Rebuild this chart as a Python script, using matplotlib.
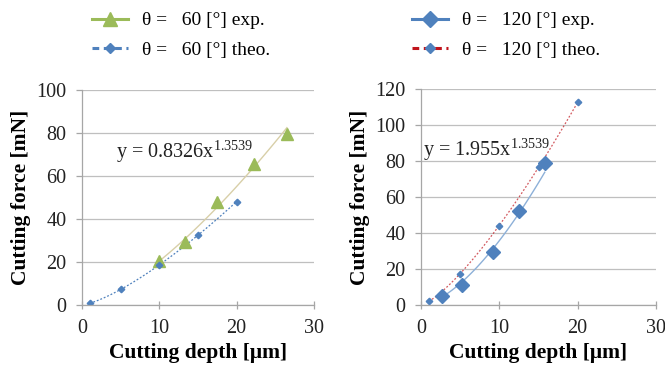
import numpy as np
import matplotlib
matplotlib.use("Agg")
import matplotlib.pyplot as plt
from matplotlib.lines import Line2D

plt.rcParams['font.family'] = ['Liberation Serif', 'DejaVu Serif']
plt.rcParams['mathtext.fontset'] = 'custom'
plt.rcParams['mathtext.rm'] = 'Liberation Serif'

# Data
exp60_x = [10.0, 13.3, 17.5, 22.2, 26.5]
exp60_y = [20.5, 29.5, 48.0, 65.5, 79.5]
theo60_x = [1, 5, 10, 15, 20]
theo60_y = [0.8, 7.3, 18.6, 32.5, 48.0]

exp120_x = [2.7, 5.2, 9.2, 12.5, 15.8]
exp120_y = [5.0, 11.0, 29.5, 52.5, 79.0]
theo120_x = [1, 5, 10, 15, 20]
theo120_y = [2.0, 17.5, 44.0, 76.5, 113.0]

eq60 = r"y = 0.8326x$^{1.3539}$"
eq120 = r"y = 1.955x$^{1.3539}$"

GREEN = '#9BBB59'
BLUE = '#4F81BD'
RED = '#C0141C'
GRID = '#BFBFBF'
TAN = '#D8CFA8'
LBLUE = '#8DB0D8'

fig = plt.figure(figsize=(6.65, 3.7), dpi=100)
ax1 = fig.add_axes([82/665, 1-305/370, (314-82)/665, (305-90)/370])
ax2 = fig.add_axes([421/665, 1-305/370, (656-421)/665, (305-89)/370])


def power_fit(x, y):
    x = np.asarray(x, float); y = np.asarray(y, float)
    b, a = np.polyfit(np.log(x), np.log(y), 1)
    xs = np.linspace(x.min(), x.max(), 100)
    return xs, np.exp(a) * xs ** b


def style(ax, ymax, ystep):
    ax.set_xlim(0, 30)
    ax.set_ylim(0, ymax)
    ax.set_xticks([0, 10, 20, 30])
    ax.set_yticks(np.arange(0, ymax + 1, ystep))
    ax.yaxis.grid(True, color=GRID, lw=0.9)
    ax.set_axisbelow(True)
    for s in ['top', 'right']:
        ax.spines[s].set_visible(False)
    for s in ['left', 'bottom']:
        ax.spines[s].set_color('#A6A6A6')
        ax.spines[s].set_linewidth(0.9)
    ax.tick_params(axis='both', colors='#A6A6A6', length=4, width=0.9,
                   labelsize=14.5, labelcolor='#222222')
    ax.tick_params(axis='x', direction='inout', length=6, pad=7)
    ax.tick_params(axis='y', pad=7)
    ax.set_xlabel('Cutting depth [μm]', fontsize=15.5, fontweight='bold',
                  labelpad=4)
    ax.set_ylabel('Cutting force [mN]', fontsize=15.5, fontweight='bold',
                  labelpad=4)


# Left chart
style(ax1, 100, 20)
xs, ys = power_fit(exp60_x, exp60_y)
ax1.plot(xs, ys, color=TAN, lw=1.0)
xs, ys = power_fit(theo60_x, theo60_y)
ax1.plot(xs, ys, color=BLUE, lw=0.9, ls=(0, (1.5, 1.5)))
ax1.plot(exp60_x, exp60_y, ls='none', marker='^', ms=9, color=GREEN)
ax1.plot(theo60_x, theo60_y, ls='none', marker='D', ms=3.3, color=BLUE)
ax1.text(0.145, 0.685, eq60, transform=ax1.transAxes, fontsize=14.5,
         color='#222222')

# Right chart
style(ax2, 120, 20)
xs, ys = power_fit(exp120_x, exp120_y)
ax2.plot(xs, ys, color=LBLUE, lw=1.0)
xs, ys = power_fit(theo120_x, theo120_y)
ax2.plot(xs, ys, color=RED, lw=0.9, ls=(0, (1.5, 1.5)), alpha=0.7)
ax2.plot(exp120_x, exp120_y, ls='none', marker='D', ms=7.5, color=BLUE)
ax2.plot(theo120_x, theo120_y, ls='none', marker='D', ms=3.3, color=BLUE)
ax2.text(0.01, 0.69, eq120, transform=ax2.transAxes, fontsize=14.5,
         color='#222222')

# Legends
common = dict(loc='upper left', frameon=False, fontsize=14, handlelength=1.85,
              handletextpad=0.75, labelspacing=0.62, borderpad=0.2)
h1 = [Line2D([], [], color=GREEN, lw=2.2, marker='^', ms=10),
      Line2D([], [], color=BLUE, lw=2.2, ls=(0, (2.2, 1.5)), marker='D', ms=5)]
l1 = ['θ =   60 [°] exp.', 'θ =   60 [°] theo.']
fig.legend(h1, l1, bbox_to_anchor=(78/665, 1.005), **common)
h2 = [Line2D([], [], color=BLUE, lw=2.2, marker='D', ms=8),
      Line2D([], [], color=RED, lw=2.2, ls=(0, (2.2, 1.5)), marker='D', ms=5,
             mfc=BLUE, mec=BLUE)]
l2 = ['θ =   120 [°] exp.', 'θ =   120 [°] theo.']
fig.legend(h2, l2, bbox_to_anchor=(398/665, 1.005), **common)

fig.savefig('out.png', dpi=100)
